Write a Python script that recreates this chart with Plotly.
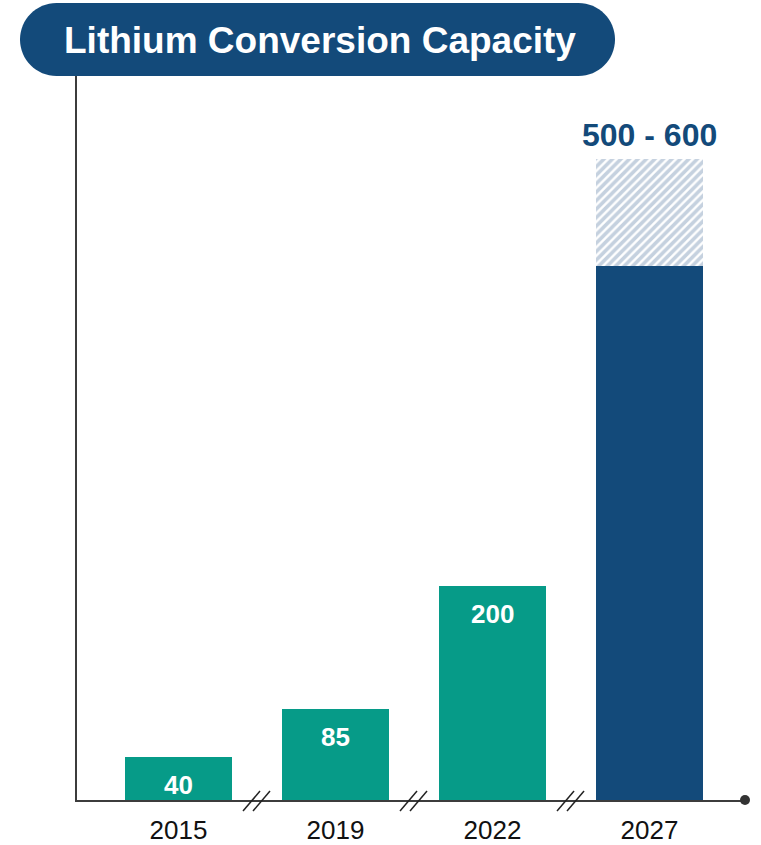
import plotly.graph_objects as go

# ---- data ----
years = ["2015", "2019", "2022", "2027"]
capacity = [40, 85, 200, 500]          # solid bar heights
upper = [None, None, None, 600]        # upper end of range (hatched)
bar_labels = ["40", "85", "200", None]
range_label = "500 - 600"
title_text = "Lithium Conversion Capacity"

TEAL = "#069B88"
NAVY = "#134A7A"
HATCH = "#8CA4C0"
AXIS = "#3C3C3C"
FONT = "Liberation Sans, Arial, sans-serif"

W, H = 761, 845
ML, MR, MT, MB = 77, 16, 75, 45
PW, PH = W - ML - MR, H - MT - MB

bar_colors = [TEAL if u is None else NAVY for u in upper]
extra = [None if u is None else u - c for c, u in zip(capacity, upper)]

fig = go.Figure()
fig.add_trace(go.Bar(
    x=years, y=capacity, marker=dict(color=bar_colors, line=dict(width=0)),
    width=0.68, hoverinfo="skip", showlegend=False))
fig.add_trace(go.Bar(
    x=years, y=extra,
    marker=dict(color="white", line=dict(width=0),
                pattern=dict(shape="/", fgcolor=HATCH, bgcolor="white",
                             size=6, solidity=0.6)),
    width=0.68, hoverinfo="skip", showlegend=False))

# value labels inside bars
for i, (v, lab) in enumerate(zip(capacity, bar_labels)):
    if lab:
        fig.add_annotation(x=i, y=v, text=f"<b>{lab}</b>", showarrow=False,
                           xanchor="center", yanchor="middle", yshift=-28,
                           font=dict(family=FONT, size=26, color="white"))
# range label on top
for i, u in enumerate(upper):
    if u is not None:
        fig.add_annotation(x=i, y=u, text=f"<b>{range_label}</b>", showarrow=False,
                           xanchor="center", yanchor="middle", yshift=24,
                           font=dict(family=FONT, size=32, color=NAVY))

shapes = []
# axis break marks between categories
for i in range(len(years) - 1):
    for dx in (-14, -4):
        shapes.append(dict(type="line", xref="x", yref="paper",
                           xsizemode="pixel", ysizemode="pixel",
                           xanchor=i + 0.5, yanchor=0,
                           x0=dx, x1=dx + 17, y0=-11, y1=9,
                           line=dict(color="#222222", width=1.5)))
# end dot on x axis
shapes.append(dict(type="circle", xref="paper", yref="paper",
                   xsizemode="pixel", ysizemode="pixel", xanchor=1, yanchor=0,
                   x0=-5, x1=5, y0=-5, y1=5,
                   fillcolor="#333333", line=dict(width=0)))

# title pill (pixel coords -> paper)
def px(x):
    return (x - ML) / PW
def py(y):
    return (H - MB - y) / PH

x0p, x1p, y0p, y1p = 20, 615, 3, 76
r = (y1p - y0p) / 2
k = 0.5523 * r
cy = (y0p + y1p) / 2
lc, rc = x0p + r, x1p - r
pts = [
    ("M", [(lc, y0p)]),
    ("L", [(rc, y0p)]),
    ("C", [(rc + k, y0p), (x1p, cy - k), (x1p, cy)]),
    ("C", [(x1p, cy + k), (rc + k, y1p), (rc, y1p)]),
    ("L", [(lc, y1p)]),
    ("C", [(lc - k, y1p), (x0p, cy + k), (x0p, cy)]),
    ("C", [(x0p, cy - k), (lc - k, y0p), (lc, y0p)]),
]
path = ""
for cmd, ps in pts:
    path += cmd + " " + " ".join(f"{px(a):.5f},{py(b):.5f}" for a, b in ps) + " "
path += "Z"
shapes.append(dict(type="path", xref="paper", yref="paper", path=path,
                   fillcolor=NAVY, line=dict(width=0), layer="above"))

fig.add_annotation(xref="paper", yref="paper", x=px(319.5), y=py(cy + 1),
                   xanchor="center", yanchor="middle",
                   text=f"<b>{title_text}</b>", showarrow=False,
                   font=dict(family=FONT, size=37, color="white"))

fig.update_layout(
    width=W, height=H, autosize=False, barmode="stack", bargap=0,
    margin=dict(l=ML, r=MR, t=MT, b=MB, autoexpand=False),
    paper_bgcolor="white", plot_bgcolor="white",
    shapes=shapes,
    font=dict(family=FONT),
    xaxis=dict(type="category", range=[-0.6465, 3.608], showgrid=False,
               zeroline=False, showline=True, linecolor=AXIS, linewidth=2,
               ticks="", ticklabelstandoff=6, automargin=False,
               tickfont=dict(family=FONT, size=26, color="#111111"),
               fixedrange=True),
    yaxis=dict(range=[0, 679], showgrid=False, zeroline=False, showline=True,
               linecolor=AXIS, linewidth=2, showticklabels=False, ticks="",
               automargin=False, fixedrange=True),
)

fig.write_html("out.html", config={"displayModeBar": False, "responsive": False},
               post_script="document.body.style.margin='0';"
                           "document.body.style.overflow='hidden';")
